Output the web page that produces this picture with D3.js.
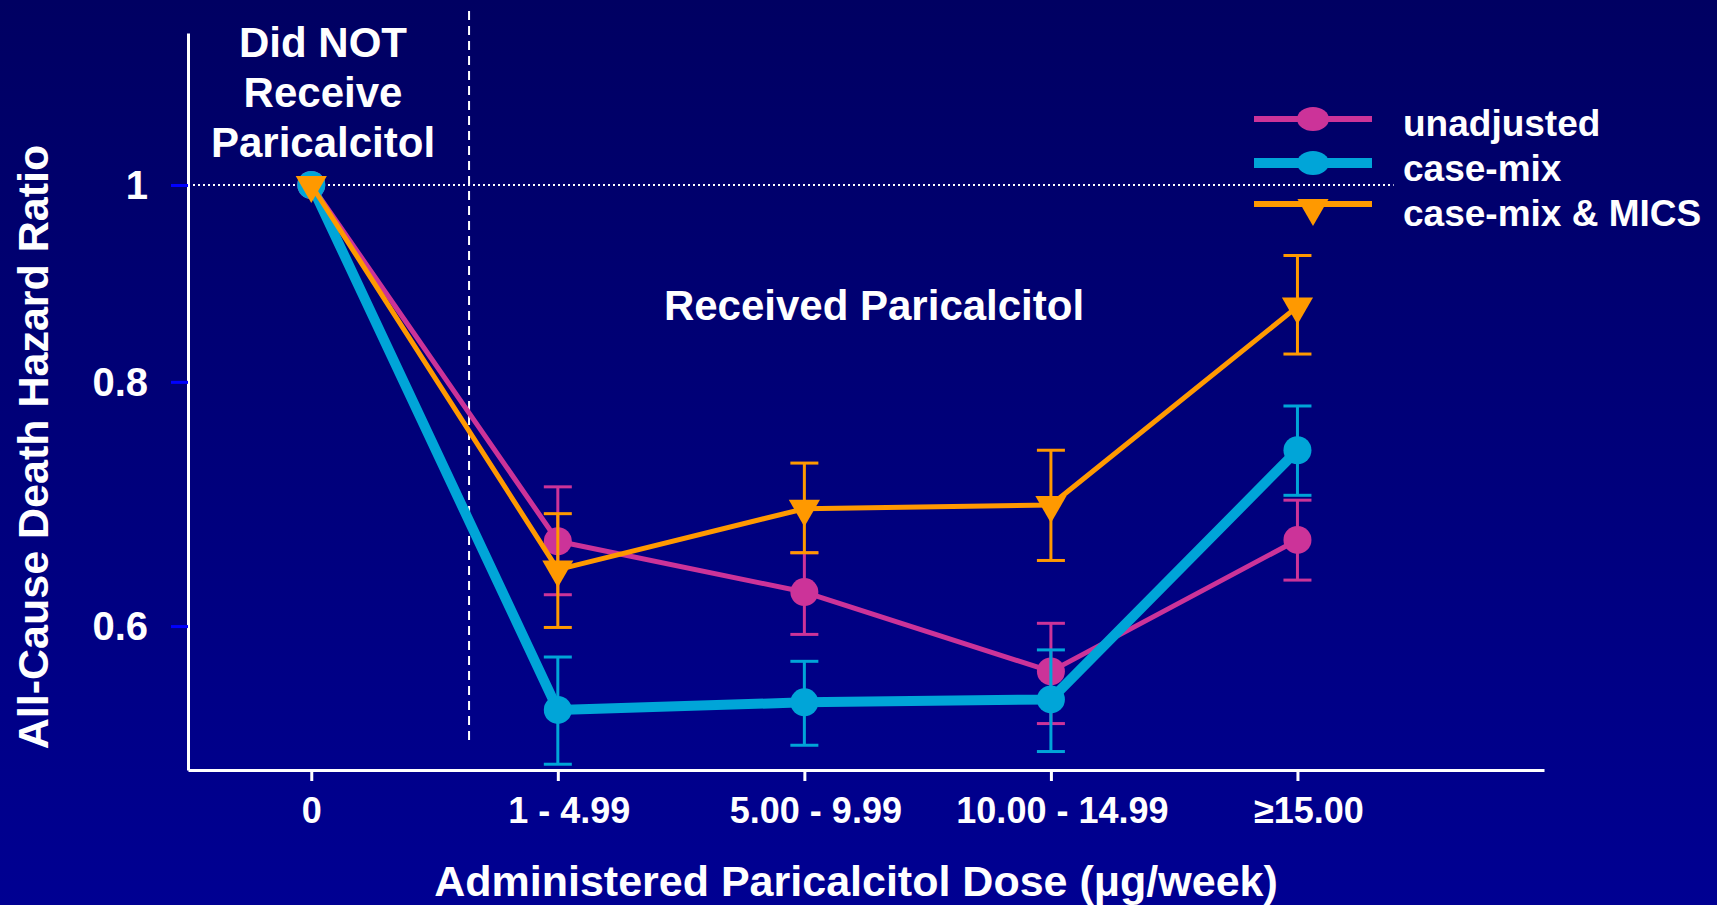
<!DOCTYPE html>
<html><head><meta charset="utf-8">
<script src="https://cdn.jsdelivr.net/npm/d3@7"></script>
<style>
html,body{margin:0;padding:0;background:#000070;}
svg{display:block;font-family:"Liberation Sans",Arial,sans-serif;font-weight:bold;}
</style></head>
<body>
<svg id="chart" width="1717" height="905"></svg>
<script>
// ---- data ----
const categories = ["0", "1 - 4.99", "5.00 - 9.99", "10.00 - 14.99", "\u226515.00"];
const yTicks = [0.6, 0.8, 1];
const seriesNames = ["unadjusted", "case-mix", "case-mix & MICS"];
const unadjusted   = [1.0, 0.664, 0.625, 0.568, 0.665];
const unadjustedLo = [null, 0.623, 0.594, 0.533, 0.634];
const unadjustedHi = [null, 0.708, 0.655, 0.602, 0.697];
const caseMix      = [1.0, 0.542, 0.547, 0.549, 0.739];
const caseMixLo    = [null, 0.507, 0.519, 0.515, 0.701];
const caseMixHi    = [null, 0.578, 0.575, 0.583, 0.778];
const mics         = [1.0, 0.642, 0.690, 0.693, 0.872];
const micsLo       = [null, 0.599, 0.655, 0.649, 0.826];
const micsHi       = [null, 0.686, 0.728, 0.739, 0.924];

const series = [
  {name: seriesNames[0], v: unadjusted, lo: unadjustedLo, hi: unadjustedHi, color: "#CC3399", width: 5, marker: "circle"},
  {name: seriesNames[1], v: caseMix, lo: caseMixLo, hi: caseMixHi, color: "#00A5D8", width: 10, marker: "circle"},
  {name: seriesNames[2], v: mics, lo: micsLo, hi: micsHi, color: "#FF9900", width: 5, marker: "triangle"}
];

const svg = d3.select("#chart");
const W = 1717, H = 905;

// background gradient
const defs = svg.append("defs");
const grad = defs.append("linearGradient").attr("id","bg").attr("x1",0).attr("y1",0).attr("x2",0).attr("y2",1);
grad.append("stop").attr("offset","0%").attr("stop-color","#000062");
grad.append("stop").attr("offset","100%").attr("stop-color","#000092");
svg.append("rect").attr("width",W).attr("height",H).attr("fill","url(#bg)");

const x = d3.scaleLinear().domain([-0.5, 5]).range([188, 1544]);
const y = d3.scalePow().exponent(0.15).domain([0.5034, 1.1822]).range([770, 33]);

// reference lines
svg.append("line").attr("x1", x(-0.5)).attr("x2", x(4.39)).attr("y1", y(1)).attr("y2", y(1))
  .attr("stroke","#fff").attr("stroke-width",2).attr("stroke-dasharray","2,3");
svg.append("line").attr("x1", x(0.64)).attr("x2", x(0.64)).attr("y1", 11).attr("y2", 745)
  .attr("stroke","#fff").attr("stroke-width",2).attr("stroke-dasharray","9,6");

// axes
const yAxis = svg.append("g").attr("transform",`translate(${x(-0.5)},0)`)
  .call(d3.axisLeft(y).tickValues(yTicks).tickFormat(d => d === 1 ? "1" : d3.format(".1f")(d)).tickSize(17).tickSizeOuter(0).tickPadding(23));
yAxis.select(".domain").attr("stroke","#fff").attr("stroke-width",3);
yAxis.selectAll(".tick line").attr("stroke","#0000FF").attr("stroke-width",3);
yAxis.selectAll(".tick text").attr("fill","#fff").attr("font-size",40).attr("font-family","Liberation Sans, Arial, sans-serif").attr("font-weight","bold").attr("dy","0.34em");

const xAxis = svg.append("g").attr("transform",`translate(0,${y.range()[0]})`)
  .call(d3.axisBottom(x).tickValues(d3.range(categories.length)).tickFormat(i => categories[i]).tickSize(11).tickSizeOuter(0).tickPadding(8));
xAxis.select(".domain").attr("stroke","#fff").attr("stroke-width",3);
xAxis.selectAll(".tick line").attr("stroke","#fff").attr("stroke-width",3);
xAxis.selectAll(".tick text").attr("fill","#fff").attr("font-size",36).attr("font-family","Liberation Sans, Arial, sans-serif").attr("font-weight","bold")
  .attr("dy","0.95em").attr("dx", (d,i) => i === 0 ? 0 : 11);

// axis titles
svg.append("text").attr("x", 856).attr("y", 896).attr("text-anchor","middle").attr("fill","#fff")
  .attr("font-size",43).text("Administered Paricalcitol Dose (\u03BCg/week)");
svg.append("text").attr("transform","translate(48,447) rotate(-90)").attr("text-anchor","middle").attr("fill","#fff")
  .attr("font-size",43).text("All-Cause Death Hazard Ratio");

// annotations
const ann = svg.append("text").attr("x",323).attr("text-anchor","middle").attr("fill","#fff").attr("font-size",42);
["Did NOT","Receive","Paricalcitol"].forEach((t,i) => ann.append("tspan").attr("x",323).attr("y",57 + i*50).text(t));
svg.append("text").attr("x",874).attr("y",320).attr("text-anchor","middle").attr("fill","#fff").attr("font-size",42).text("Received Paricalcitol");

// series
const tri = d3.symbol().type(d3.symbolTriangle).size(420);
series.forEach(s => {
  const g = svg.append("g");
  const pts = s.v.map((v,i) => [x(i), y(v)]);
  // error bars
  s.v.forEach((v,i) => {
    if (s.lo[i] == null) return;
    const cx = x(i);
    g.append("line").attr("x1",cx).attr("x2",cx).attr("y1",y(s.lo[i])).attr("y2",y(s.hi[i])).attr("stroke",s.color).attr("stroke-width",3);
    [s.lo[i], s.hi[i]].forEach(e => g.append("line").attr("x1",cx-14).attr("x2",cx+14).attr("y1",y(e)).attr("y2",y(e)).attr("stroke",s.color).attr("stroke-width",3));
  });
  g.append("path").attr("d", d3.line()(pts)).attr("fill","none").attr("stroke",s.color).attr("stroke-width",s.width).attr("stroke-linejoin","round");
  pts.forEach(p => {
    if (s.marker === "circle") g.append("circle").attr("cx",p[0]).attr("cy",p[1]).attr("r",14).attr("fill",s.color);
    else g.append("path").attr("d",tri).attr("transform",`translate(${p[0]},${p[1]}) rotate(180)`).attr("fill",s.color);
  });
});

// legend
const legY = [119, 163, 204];
const legText = [136, 181, 226];
series.forEach((s,i) => {
  const g = svg.append("g");
  g.append("line").attr("x1",1254).attr("x2",1372).attr("y1",legY[i]).attr("y2",legY[i]).attr("stroke",s.color).attr("stroke-width", i===1 ? 10 : 6);
  if (s.marker === "circle") g.append("ellipse").attr("cx",1313).attr("cy",legY[i]).attr("rx",16).attr("ry",12).attr("fill",s.color);
  else g.append("path").attr("d",tri).attr("transform",`translate(1313,${legY[i]+4}) rotate(180)`).attr("fill",s.color);
  g.append("text").attr("x",1403).attr("y",legText[i]).attr("fill","#fff").attr("font-size",37).text(s.name);
});
</script>
</body></html>
